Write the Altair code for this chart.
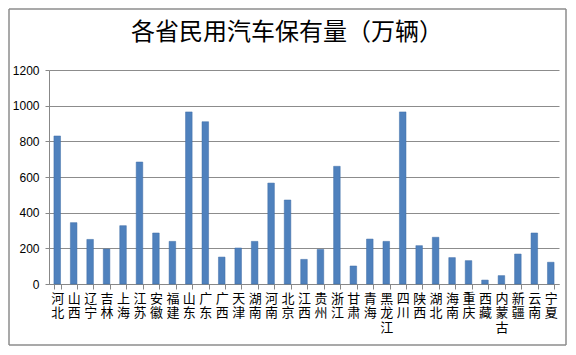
import altair as alt
import pandas as pd

provinces = ["河北", "山西", "辽宁", "吉林", "上海", "江苏", "安徽", "福建", "山东", "广东",
             "广西", "天津", "湖南", "河南", "北京", "江西", "贵州", "浙江", "甘肃", "青海",
             "黑龙江", "四川", "陕西", "湖北", "海南", "重庆", "西藏", "内蒙古", "新疆", "云南", "宁夏"]
values = [830, 344, 250, 196, 327, 684, 286, 239, 965, 910,
          151, 202, 239, 566, 471, 138, 194, 660, 101, 252,
          239, 965, 215, 262, 148, 131, 22, 47, 168, 286, 122]
y_ticks = [0, 200, 400, 600, 800, 1000, 1200]
title_text = "各省民用汽车保有量（万辆）"

df = pd.DataFrame({"province": provinces, "value": values})
one = pd.DataFrame({"t": [title_text]})

bars = alt.Chart(df).mark_bar(color="#4F81BD", stroke="#3E6DA6", strokeWidth=0.5).encode(
    x=alt.X("province:N", sort=provinces, title=None,
            scale=alt.Scale(paddingInner=0.6, paddingOuter=0.3),
            axis=alt.Axis(labelAngle=0, labelExpr="split(datum.label, '')",
                          labelLineHeight=14.5, labelFontSize=13, labelBaseline="top",
                          labelFont="Noto Sans CJK SC", labelColor="#000000",
                          labelPadding=3, tickSize=5, tickColor="#888888",
                          domainColor="#888888", tickBand="extent", grid=False)),
    y=alt.Y("value:Q", title=None,
            scale=alt.Scale(domain=[0, 1200], nice=False),
            axis=alt.Axis(values=y_ticks, format="d", labelFontSize=12, labelFont="Liberation Sans",
                          labelColor="#000000", tickSize=4, tickColor="#888888",
                          domain=True, domainColor="#888888", labelPadding=6,
                          gridColor="#8C8C8C", gridWidth=1)),
)

L, R, T, B = -40, 517, -61, 275
rule_style = dict(stroke="#8C8C8C", strokeWidth=1.5)
top = alt.Chart(one).mark_rule(**rule_style).encode(x=alt.value(L), x2=alt.value(R), y=alt.value(T))
bottom = alt.Chart(one).mark_rule(**rule_style).encode(x=alt.value(L), x2=alt.value(R), y=alt.value(B))
left = alt.Chart(one).mark_rule(**rule_style).encode(x=alt.value(L), y=alt.value(T), y2=alt.value(B))
right = alt.Chart(one).mark_rule(**rule_style).encode(x=alt.value(R), y=alt.value(T), y2=alt.value(B))

title = alt.Chart(one).mark_text(
    fontSize=24, font="Noto Sans CJK SC", color="#000000", align="center", baseline="middle").encode(
    text="t:N", x=alt.value(238), y=alt.value(-37))

chart = alt.layer(bars, top, bottom, left, right, title).properties(
    width=510, height=214,
    autosize=alt.AutoSizeParams(type="none"),
    padding={"left": 41, "top": 62, "right": 9, "bottom": 63},
).configure_view(stroke=None)

chart.save("out.html", embed_options={"renderer": "svg", "actions": False})
